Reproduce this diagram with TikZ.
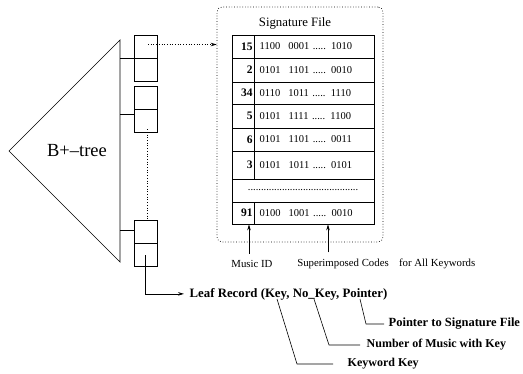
\documentclass[tikz,border=0pt]{standalone}
\usepackage{fontspec}
\setmainfont{Liberation Serif}
\usetikzlibrary{positioning,arrows.meta}

\begin{document}
\begin{tikzpicture}[x=1pt,y=-1pt,line width=0.7pt,
    >={Stealth[length=6pt,width=3.5pt]},
    cell/.style={draw,minimum size=23pt,inner sep=0pt},
    idcell/.style={draw,text width=19pt,align=right,inner xsep=1.5pt,inner ysep=0pt,
      font=\fontsize{11.5}{13}\selectfont\bfseries},
    codecell/.style={draw,text width=110pt,align=left,inner xsep=5pt,inner ysep=0pt,
      font=\fontsize{10.5}{12}\selectfont},
    note/.style={font=\fontsize{10.8}{12}\selectfont},
    bold/.style={font=\fontsize{12}{14}\selectfont\bfseries},
    leader/.style={line width=0.6pt}]
  \useasboundingbox (0,0) rectangle (523,373);

  % the tree
  \coordinate (Tip) at (9,151);
  \coordinate (TreeTop) at (120,40);
  \coordinate (TreeBot) at (120,262);
  \draw (Tip) -- (TreeTop) -- (TreeBot) -- cycle;
  \node[font=\fontsize{18.5}{20}\selectfont] (TreeLab) at (77,151) {B+--tree};

  % leaf nodes
  \node[cell] (B1a) at (145.5,46.5) {};
  \node[cell, below=0pt of B1a] (B1b) {};
  \node[cell] (B2a) at (145.5,97.5) {};
  \node[cell, below=0pt of B2a] (B2b) {};
  \node[cell] (B3a) at (145.5,231.5) {};
  \node[cell, below=0pt of B3a] (B3b) {};
  \draw (B1a.south west) -- (B1a.south west -| TreeTop);
  \draw ([yshift=-5pt]B2a.south west) -- ([yshift=-5pt]B2a.south west -| TreeTop);
  \draw ([yshift=1pt]B3a.west) -- ([yshift=1pt]B3a.west -| TreeTop);
  \draw[dotted] ([xshift=1.5pt,yshift=-8pt]B2b.center) -- ([xshift=1.5pt]B3a.north);

  % signature file
  \node[draw,dotted,rounded corners=5pt,minimum width=166pt,minimum height=235pt,inner sep=0pt]
    (SigFile) at (300,124.5) {};
  \node[font=\fontsize{12.8}{14}\selectfont] (SigTitle) at (295,23) {Signature File};
  \draw[dotted,->] ([xshift=2.5pt,yshift=2pt]B1a.center) -- ([yshift=2pt]B1a.center -| SigFile.west);

  \foreach \n/\y/\h/\code in {15/46.5/23/{1100\hspace{8pt}0001 ..... 1010},
      2/70/24/{0101\hspace{8pt}1101 ..... 0010},
      34/93/22/{0110\hspace{8pt}1011 ..... 1110},
      5/116/24/{0101\hspace{8pt}1111 ..... 1100},
      6/139.5/23/{0101\hspace{8pt}1101 ..... 0011},
      3/165/28/{0101\hspace{8pt}1011 ..... 0101},
      91/213/22/{0100\hspace{8pt}1001 ..... 0010}}{
    \node[idcell,minimum height=\h pt] (id\n) at (243,\y) {\n};
    \node[codecell,minimum height=\h pt,right=0pt of id\n] (code\n) {\code};
  }
  \node[draw,minimum width=142pt,minimum height=23pt,inner sep=0pt,
    font=\fontsize{10.5}{12}\selectfont] (RowDots) at (303,190.5)
    {..........................................};

  % labels under the table
  \node[note] (LabID) at (252,264) {Music ID};
  \node[note] (LabCodes) at (343,264) {Superimposed Codes};
  \node[note, right=3pt of LabCodes] (LabAll) {for All Keywords};
  \draw[->] ([xshift=-3pt,yshift=3pt]LabID.north) -- ([xshift=-3pt]LabID.north |- id91.south);
  \draw[->] ([xshift=-15pt,yshift=3pt]LabCodes.north) -- ([xshift=-15pt]LabCodes.north |- code91.south);

  % leaf record
  \node[bold, font=\fontsize{12.8}{14}\selectfont\bfseries, anchor=base west] (Leaf) at (186,297)
    {Leaf Record (Key, No\_Key, Pointer)};
  \draw[->,shorten >=2pt] (B3b.center) |- (Leaf.west);
  \coordinate (KeyPt) at ([xshift=91pt,yshift=-2pt]Leaf.base west);
  \coordinate (NumPt) at ([xshift=128pt,yshift=-2pt]Leaf.base west);
  \coordinate (PtrPt) at ([xshift=174pt,yshift=-2pt]Leaf.base west);
  \node[bold, font=\fontsize{12.5}{14}\selectfont\bfseries, anchor=west] (PtrLab) at (385,324)
    {Pointer to Signature File};
  \node[bold, anchor=west] (NumLab) at (363,345) {Number of Music with Key};
  \node[bold, anchor=west] (KeyLab) at (344,364) {Keyword Key};
  \draw[leader] (KeyPt) -- ([xshift=-47pt]KeyLab.west) -- ([xshift=-11pt]KeyLab.west);
  \draw[leader] (NumPt) -- ([xshift=-34pt]NumLab.west) -- ([xshift=-3pt]NumLab.west);
  \draw[leader] (PtrPt) -- ([xshift=-19pt]PtrLab.west) -- ([xshift=-1pt]PtrLab.west);
\end{tikzpicture}
\end{document}
